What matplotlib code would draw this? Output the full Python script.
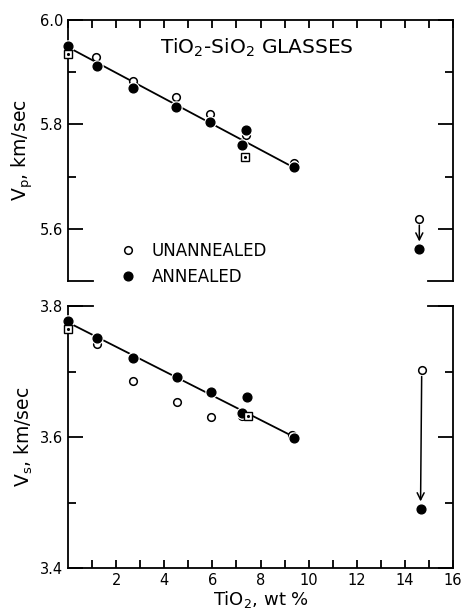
import numpy as np
import matplotlib.pyplot as plt

# TiO2 content (wt %) and velocities (km/sec)
vp_ann_x = [0.0, 1.2, 2.7, 4.5, 5.9, 7.25, 7.4, 9.4, 14.6]
vp_ann = [5.951, 5.912, 5.869, 5.834, 5.805, 5.761, 5.789, 5.718, 5.561]
vp_un_x = [1.15, 2.7, 4.5, 5.9, 7.4, 9.4, 14.6]
vp_un = [5.929, 5.884, 5.852, 5.820, 5.780, 5.726, 5.619]
vp_sq_x = [0.0, 7.35]
vp_sq = [5.934, 5.738]
vp_fit_x = [0.0, 9.4]
vp_fit = [5.948, 5.717]

vs_ann_x = [0.0, 1.2, 2.7, 4.55, 5.95, 7.25, 7.45, 9.4, 14.65]
vs_ann = [3.777, 3.751, 3.720, 3.692, 3.668, 3.637, 3.661, 3.599, 3.490]
vs_un_x = [1.2, 2.7, 4.55, 5.95, 7.25, 9.3, 14.7]
vs_un = [3.742, 3.686, 3.653, 3.631, 3.632, 3.603, 3.702]
vs_sq_x = [0.0, 7.5]
vs_sq = [3.765, 3.632]
vs_fit_x = [0.0, 9.4]
vs_fit = [3.775, 3.600]

LW = 1.3


def draw_panel(ax, ann_x, ann, un_x, un, sq_x, sq, fit_x, fit):
    ax.plot(fit_x, fit, color='k', lw=LW, zorder=1)
    h_un, = ax.plot(un_x, un, 'o', ms=5.5, mfc='white', mec='k', mew=1.1,
                    zorder=3, clip_on=False)
    ax.plot(ann_x, ann, 'o', ms=8, color='white', zorder=3.5, clip_on=False)  # white halo
    h_ann, = ax.plot(ann_x, ann, 'o', ms=6.3, color='k', zorder=4, clip_on=False)
    ax.plot(sq_x, sq, 's', ms=5.5, mfc='white', mec='k', mew=1.0, zorder=5,
            clip_on=False)
    ax.plot(sq_x, sq, '.', ms=2.5, color='k', zorder=6, clip_on=False)
    # annealing shift of the 14.6 wt% sample
    ax.annotate('', xy=(ann_x[-1], ann[-1]), xytext=(un_x[-1], un[-1]),
                arrowprops=dict(arrowstyle='->,head_length=0.5,head_width=0.25',
                                lw=1.1, color='k', shrinkA=4.5, shrinkB=5.5),
                zorder=2)
    ax.set_xlim(0, 16)
    for s in ax.spines.values():
        s.set_linewidth(LW)
    ax.tick_params(which='both', direction='in', width=LW, labelsize=10.5, pad=3.5)
    ax.tick_params(which='major', length=11)
    ax.tick_params(which='minor', length=6)
    return h_un, h_ann


def end_stubs(ax, y):
    # short frame pieces at both corners instead of a full spine
    for x0, x1 in [(0, 0.065), (0.935, 1)]:
        ax.plot([x0, x1], [y, y], color='k', lw=LW, transform=ax.transAxes,
                clip_on=False, solid_capstyle='projecting')


fig = plt.figure(figsize=(4.63, 6.14), dpi=100)
ax1 = fig.add_axes([0.1469, 0.5423, 0.8315, 0.4251])
ax2 = fig.add_axes([0.1469, 0.0749, 0.8315, 0.4267])

# top panel: Vp
h_un, h_ann = draw_panel(ax1, vp_ann_x, vp_ann, vp_un_x, vp_un, vp_sq_x, vp_sq,
                         vp_fit_x, vp_fit)
ax1.set_ylim(5.5, 6.0)
ax1.spines['bottom'].set_visible(False)
end_stubs(ax1, 0)
ax1.set_xticks(range(0, 17))
ax1.tick_params(axis='x', which='both', top=True, bottom=False,
                labeltop=False, labelbottom=False, length=6)
ax1.set_yticks([5.6, 5.8, 6.0])
ax1.set_yticklabels(['5.6', '5.8', '6.0'])
ax1.set_yticks([5.7, 5.9], minor=True)
ax1.tick_params(axis='y', which='both', right=True)
ax1.set_ylabel(r'V$_\mathregular{p}$, km/sec', fontsize=13.5)
ax1.yaxis.set_label_coords(-0.085, 0.5)
ax1.text(0.238, 0.895, r'TiO$_\mathregular{2}$-SiO$_\mathregular{2}$ GLASSES',
         transform=ax1.transAxes, fontsize=14.5, va='center', ha='left')
ax1.legend([h_un, h_ann], ['UNANNEALED', 'ANNEALED'], loc='upper left',
           bbox_to_anchor=(0.135, 0.15), frameon=False, fontsize=12,
           handlelength=1.0, handletextpad=0.9, labelspacing=0.5,
           borderpad=0, borderaxespad=0)

# bottom panel: Vs
draw_panel(ax2, vs_ann_x, vs_ann, vs_un_x, vs_un, vs_sq_x, vs_sq, vs_fit_x, vs_fit)
ax2.set_ylim(3.4, 3.8)
ax2.spines['top'].set_visible(False)
end_stubs(ax2, 1)
ax2.set_xticks(range(2, 17, 2))
ax2.set_xticks(range(1, 16, 2), minor=True)
ax2.tick_params(axis='x', which='both', top=False, length=6)
ax2.set_yticks([3.4, 3.6, 3.8])
ax2.set_yticklabels(['3.4', '3.6', '3.8'])
ax2.set_yticks([3.5, 3.7], minor=True)
ax2.tick_params(axis='y', which='both', right=True)
ax2.set_ylabel(r'V$_\mathregular{s}$, km/sec', fontsize=13.5)
ax2.yaxis.set_label_coords(-0.085, 0.5)
ax2.set_xlabel(r'TiO$_\mathregular{2}$, wt %', fontsize=13, labelpad=1)

fig.savefig('out.png', dpi=100)
